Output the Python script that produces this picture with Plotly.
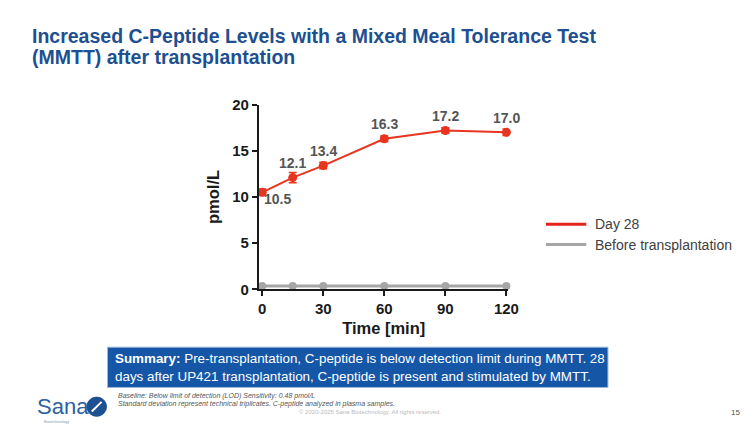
import plotly.graph_objects as go

# ---- data ----
time_min = [0, 15, 30, 60, 90, 120]
day28 = [10.5, 12.1, 13.4, 16.3, 17.2, 17.0]
day28_sd = [0.35, 0.55, 0.35, 0.3, 0.3, 0.35]
before_tx = [0.35, 0.35, 0.35, 0.35, 0.35, 0.35]
x_ticks = [0, 30, 60, 90, 120]
y_ticks = [0, 5, 10, 15, 20]
series_names = ["Day 28", "Before transplantation"]

# page is 756x439 with the browser's default 8px body margin around the figure
PAGE_M = 8
W, H = 756 - 2 * PAGE_M, 439 - 2 * PAGE_M
RED = "#e8351f"
GRAY = "#a6a6a6"
BLUE_T = "#1d4f91"
FONT = "Liberation Sans"


def px(x):
    return (x - PAGE_M) / W


def py(y):
    return 1 - (y - PAGE_M) / H


fig = go.Figure()

fig.add_trace(go.Scatter(
    x=time_min, y=before_tx, mode="lines+markers", name=series_names[1],
    line=dict(color=GRAY, width=3), marker=dict(color=GRAY, size=8),
    showlegend=False, cliponaxis=False, hoverinfo="skip"))

fig.add_trace(go.Scatter(
    x=time_min, y=day28, mode="lines+markers", name=series_names[0],
    line=dict(color=RED, width=2), marker=dict(color=RED, size=9),
    error_y=dict(type="data", array=day28_sd, color=RED, thickness=1.5, width=4),
    showlegend=False, cliponaxis=False))

axis_font = dict(family=FONT, size=15, color="#1a1a1a", weight="bold")
title_font = dict(family=FONT, size=16.5, color="#1a1a1a", weight="bold")

fig.update_layout(
    width=W, height=H,
    margin=dict(l=0, r=0, t=0, b=0),
    paper_bgcolor="white", plot_bgcolor="white",
    showlegend=False,
    xaxis=dict(domain=[px(261.7), px(515)], range=[-1.6, 121], tickvals=x_ticks,
               showgrid=False, zeroline=False, showline=True, linecolor="#1a1a1a",
               linewidth=2, ticks="outside", ticklen=5, tickwidth=2, tickcolor="#1a1a1a",
               tickfont=axis_font,
               title=dict(text="Time [min]", font=title_font, standoff=6)),
    yaxis=dict(domain=[py(291.7), py(99.3)], range=[0, 20], tickvals=y_ticks,
               showgrid=False, zeroline=False, showline=True, linecolor="#1a1a1a",
               linewidth=2, ticks="outside", ticklen=5, tickwidth=2, tickcolor="#1a1a1a",
               tickfont=axis_font,
               title=dict(text="pmol/L", font=title_font, standoff=8)),
)

annotations = []
# data labels
for i, (t, v) in enumerate(zip(time_min, day28)):
    if i == 0:
        annotations.append(dict(x=t, y=v, xref="x", yref="y", text=f"<b>{v:.1f}</b>",
                                xshift=15, yshift=-7, xanchor="center", yanchor="middle"))
    else:
        annotations.append(dict(x=t, y=v, xref="x", yref="y", text=f"<b>{v:.1f}</b>",
                                yshift=14.5, xanchor="center", yanchor="middle"))
for a in annotations:
    a.update(showarrow=False, font=dict(family=FONT, size=14, color="#555555"))

page_texts = [
    dict(text="<b>Increased C-Peptide Levels with a Mixed Meal Tolerance Test</b>",
         x=px(29), y=py(28), xanchor="left", yanchor="middle",
         font=dict(family=FONT, size=19.5, color=BLUE_T)),
    dict(text="<b>(MMTT) after transplantation</b>",
         x=px(29), y=py(50), xanchor="left", yanchor="middle",
         font=dict(family=FONT, size=19.5, color=BLUE_T)),
    # legend (manual)
    dict(text=series_names[0], x=px(601), y=py(224), xanchor="left", yanchor="middle",
         font=dict(family=FONT, size=14, color="#404040")),
    dict(text=series_names[1], x=px(601), y=py(245.5), xanchor="left", yanchor="middle",
         font=dict(family=FONT, size=14, color="#404040")),
    # summary
    dict(text="<b>Summary:</b> Pre-transplantation, C-peptide is below detection limit during MMTT. 28",
         x=px(114), y=py(363.5), xanchor="left", yanchor="middle",
         font=dict(family=FONT, size=13.4, color="white")),
    dict(text="days after UP421 transplantation, C-peptide is present and stimulated by MMTT.",
         x=px(114), y=py(382.5), xanchor="left", yanchor="middle",
         font=dict(family=FONT, size=13.4, color="white")),
    dict(text="<i>Baseline: Below limit of detection (LOD) Sensitivity: 0.48 pmol/L</i>",
         x=px(117), y=py(403), xanchor="left", yanchor="middle",
         font=dict(family=FONT, size=7, color="#555555")),
    dict(text="<i>Standard deviation represent technical triplicates. C-peptide analyzed in plasma samples.</i>",
         x=px(117), y=py(411.5), xanchor="left", yanchor="middle",
         font=dict(family=FONT, size=7, color="#555555")),
    dict(text="© 2020-2025 Sana Biotechnology. All rights reserved.",
         x=px(300), y=py(420), xanchor="left", yanchor="middle",
         font=dict(family=FONT, size=6, color="#bbbbbb")),
    dict(text="Sana", x=px(34), y=py(414), xanchor="left", yanchor="middle",
         font=dict(family=FONT, size=22, color="#2e5f9e")),
    dict(text="Biotechnology", x=px(42), y=py(429), xanchor="left", yanchor="middle",
         font=dict(family=FONT, size=4, color="#8899aa")),
    dict(text="15", x=px(752), y=py(420), xanchor="right", yanchor="middle",
         font=dict(family=FONT, size=8, color="#555555")),
]
for a in page_texts:
    a.update(xref="paper", yref="paper", showarrow=False)
annotations += page_texts
fig.update_layout(annotations=annotations)

shapes = [
    dict(type="rect", x0=px(108), x1=px(616), y0=py(394), y1=py(352),
         fillcolor="#1557a6", line=dict(color="#9fb7d8", width=1), layer="below"),
    dict(type="line", x0=px(553), x1=px(594), y0=py(224), y1=py(224),
         line=dict(color="#e3221c", width=3)),
    dict(type="line", x0=px(553), x1=px(594), y0=py(245), y1=py(245),
         line=dict(color=GRAY, width=3)),
    dict(type="circle", x0=px(87), x1=px(107), y0=py(424), y1=py(404),
         fillcolor="#1d4f91", line=dict(color="#1d4f91", width=1)),
    dict(type="line", x0=px(92), x1=px(102), y0=py(419), y1=py(409),
         line=dict(color="white", width=2)),
]
for s in shapes:
    s.update(xref="paper", yref="paper")
fig.update_layout(shapes=shapes)

fig.write_html("out.html", config={"displayModeBar": False})
